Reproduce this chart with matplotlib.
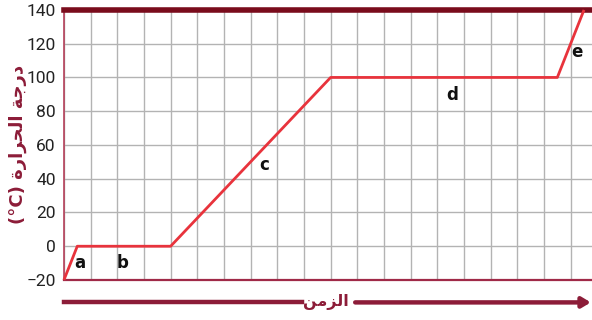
import matplotlib
matplotlib.use('Agg')
import matplotlib.pyplot as plt
from matplotlib.lines import Line2D

# heating curve: time in grid cells, temperature in degC
time = [0, 0.5, 4, 10, 18.5, 19.5]
temp = [-20, 0, 0, 100, 100, 140]
yticks = [-20, 0, 20, 40, 60, 80, 100, 120, 140]
seg_names = ['a', 'b', 'c', 'd', 'e']
seg_x = [0.6, 2.2, 7.5, 14.55, 19.25]
seg_y = [-10, -10, 48, 89.5, 115]

# arabic labels, pre-shaped glyphs in visual order
ylabel = '(°C) ' + '\uFE93\uFEAD\uFE8D\uFEAE\uFEA4\uFEDF\uFE8D' + ' ' + '\uFE94\uFE9F\uFEAD\uFEA9'
xlabel = '\uFEE6\uFEE3\uFEB0\uFEDF\uFE8D'

dark = '#8c1c38'
fig = plt.figure(figsize=(5.92, 3.2), dpi=100)
ax = fig.add_axes([0.108, 0.125, 0.892, 0.844])

ax.plot(time, temp, color='#e8333c', lw=2.0, solid_capstyle='butt', clip_on=False, zorder=3)
ax.set_xlim(0, 19.8)
ax.set_ylim(-20, 140)
ax.set_xticks(range(0, 20))
ax.set_yticks(yticks)
ax.grid(True, color='#b3b3b3', lw=1.0)
ax.tick_params(axis='x', length=0, labelbottom=False)
ax.tick_params(axis='y', length=0, pad=6, labelsize=12.5)
for lab in ax.get_yticklabels():
    lab.set_family(['Roboto', 'DejaVu Sans'])
    lab.set_color('#222222')

ax.spines['right'].set_visible(False)
ax.spines['left'].set_color('#b5405a')
ax.spines['left'].set_linewidth(1.2)
ax.spines['bottom'].set_color('#a02a48')
ax.spines['bottom'].set_linewidth(1.6)
ax.spines['top'].set_color('#7a0c1c')
ax.spines['top'].set_linewidth(4)

for n, x, y in zip(seg_names, seg_x, seg_y):
    ax.text(x, y, n, fontsize=12, fontweight='bold', ha='center', va='center', color='#111111')

fig.text(0.03, 0.55, ylabel, rotation=90, ha='center', va='center', fontsize=13,
         fontweight='bold', color=dark, family=['DejaVu Sans'])

# time arrow under the axis
ya = 0.055
fig.add_artist(Line2D([0.108, 0.51], [ya, ya], color=dark, lw=3.2))
fig.text(0.55, ya, xlabel, ha='center', va='center', fontsize=11.5, fontweight='bold',
         color=dark, family=['DejaVu Sans'])
ax.annotate('', xy=(0.998, ya), xytext=(0.60, ya), xycoords='figure fraction',
            textcoords='figure fraction',
            arrowprops=dict(arrowstyle='-|>,head_length=0.5,head_width=0.3', color=dark, lw=3.2,
                            shrinkA=0, shrinkB=0))

fig.savefig('out.png', dpi=100)
